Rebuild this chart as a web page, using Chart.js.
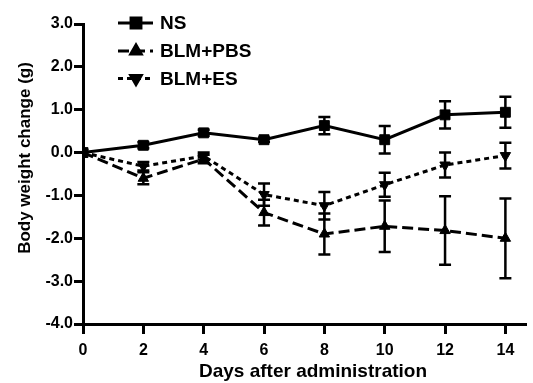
<!DOCTYPE html>
<html><head><meta charset="utf-8">
<script src="https://cdn.jsdelivr.net/npm/chart.js@4.4.0/dist/chart.umd.min.js"></script>
<style>html,body{margin:0;padding:0;background:#fff;overflow:hidden}</style>
</head><body>
<canvas id="c" width="533" height="383"></canvas>
<script>
const days = [0, 2, 4, 6, 8, 10, 12, 14];
const xTicks = [0, 2, 4, 6, 8, 10, 12, 14];
const yTicks = [3, 2, 1, 0, -1, -2, -3, -4];
const seriesNames = ['NS', 'BLM+PBS', 'BLM+ES'];
const nsMean  = [0, 0.17, 0.46, 0.30, 0.63, 0.30, 0.88, 0.94];
const nsErr   = [0, 0.07, 0.07, 0.05, 0.20, 0.32, 0.32, 0.36];
const pbsMean = [0, -0.60, -0.15, -1.40, -1.90, -1.72, -1.82, -2.00];
const pbsErr  = [0, 0.14, 0.10, 0.30, 0.48, 0.60, 0.80, 0.93];
const esMean  = [0, -0.32, -0.08, -0.98, -1.24, -0.75, -0.29, -0.07];
const esErr   = [0, 0.10, 0.08, 0.26, 0.32, 0.28, 0.29, 0.30];
const xTitle = 'Days after administration';
const yTitle = 'Body weight change (g)';

const F = '"Liberation Sans", Arial, Helvetica, sans-serif';
const errs = [nsErr, pbsErr, esErr];
function pts(m) { return days.map((d, i) => ({ x: d, y: m[i] })); }

const base = { borderColor: '#000', backgroundColor: '#000', borderWidth: 3,
  pointBorderWidth: 1, tension: 0, fill: false };

const errorBars = {
  id: 'errorBars',
  beforeDatasetsDraw(chart) {
    const { ctx, scales: { x, y } } = chart;
    ctx.save();
    ctx.strokeStyle = '#000'; ctx.lineWidth = 2.5; ctx.setLineDash([]);
    chart.data.datasets.forEach((ds, di) => {
      const e = errs[di];
      ds.data.forEach((p, i) => {
        if (!e[i]) return;
        const px = x.getPixelForValue(p.x);
        const y1 = y.getPixelForValue(p.y + e[i]);
        const y2 = y.getPixelForValue(p.y - e[i]);
        ctx.beginPath();
        ctx.moveTo(px, y1); ctx.lineTo(px, y2);
        ctx.moveTo(px - 6, y1); ctx.lineTo(px + 6, y1);
        ctx.moveTo(px - 6, y2); ctx.lineTo(px + 6, y2);
        ctx.stroke();
      });
    });
    ctx.restore();
  }
};

const extras = {
  id: 'extras',
  afterDraw(chart) {
    const ctx = chart.ctx;
    ctx.save();
    // legend
    const ys = [23, 51, 78.5];
    chart.data.datasets.forEach((ds, i) => {
      const yy = ys[i];
      ctx.strokeStyle = '#000'; ctx.lineWidth = 3;
      ctx.setLineDash(ds.borderDash || []);
      ctx.beginPath(); ctx.moveTo(118, yy); ctx.lineTo(153, yy); ctx.stroke();
      ctx.setLineDash([]);
      ctx.fillStyle = '#000';
      Chart.helpers.drawPoint(ctx, { pointStyle: ds.pointStyle, radius: ds.pointRadius,
        rotation: ds.pointRotation || 0, borderWidth: 1 }, 136, yy);
      ctx.font = 'bold 19px ' + F;
      ctx.textAlign = 'left'; ctx.textBaseline = 'middle';
      ctx.fillText(ds.label, 160, yy + 1);
    });
    // axis titles
    ctx.fillStyle = '#000';
    ctx.font = 'bold 19px ' + F;
    ctx.textAlign = 'center'; ctx.textBaseline = 'middle';
    ctx.fillText(xTitle, 313, 372);
    ctx.translate(25, 158);
    ctx.rotate(-Math.PI / 2);
    ctx.font = 'bold 17px ' + F;
    ctx.fillText(yTitle, 0, 0);
    ctx.restore();
  }
};

new Chart(document.getElementById('c'), {
  type: 'line',
  data: {
    datasets: [
      Object.assign({}, base, { label: seriesNames[0], data: pts(nsMean),
        pointStyle: 'rect', pointRadius: 7, borderDash: [] }),
      Object.assign({}, base, { label: seriesNames[1], data: pts(pbsMean),
        pointStyle: 'triangle', pointRadius: 6, borderDash: [11, 5] }),
      Object.assign({}, base, { label: seriesNames[2], data: pts(esMean),
        pointStyle: 'triangle', pointRotation: 180, pointRadius: 6, borderDash: [5, 4] })
    ]
  },
  options: {
    responsive: false, animation: false, devicePixelRatio: 1,
    layout: { padding: { top: 24, left: 0, right: 0, bottom: 0 } },
    plugins: { legend: { display: false }, tooltip: { enabled: false } },
    scales: {
      x: {
        type: 'linear', min: 0, max: 14.65,
        afterBuildTicks: s => { s.ticks = xTicks.map(v => ({ value: v })); },
        afterFit: s => { s.height = 59; },
        border: { display: true, width: 3, color: '#000' },
        grid: { drawOnChartArea: false, drawTicks: true, tickLength: 10, lineWidth: 3, color: '#000' },
        ticks: { color: '#000', font: { family: F, size: 16, weight: 'bold' }, padding: 7,
          maxRotation: 0, autoSkip: false }
      },
      y: {
        type: 'linear', min: -4, max: 3,
        afterBuildTicks: s => { s.ticks = yTicks.map(v => ({ value: v })); },
        afterFit: s => { s.width = 83; },
        border: { display: true, width: 3, color: '#000' },
        grid: { drawOnChartArea: false, drawTicks: true, tickLength: 9, lineWidth: 3, color: '#000' },
        ticks: { color: '#000', font: { family: F, size: 16, weight: 'bold' }, padding: 1,
          callback: v => Number(v).toFixed(1) }
      }
    }
  },
  plugins: [errorBars, extras]
});
</script>
</body></html>
